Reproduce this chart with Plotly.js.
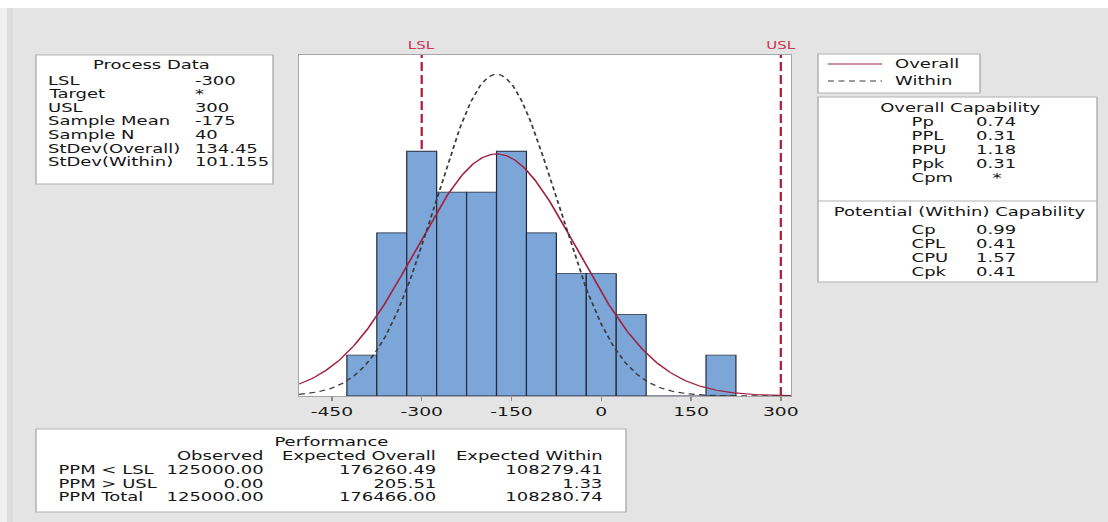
<!DOCTYPE html>
<html><head><meta charset="utf-8">
<script src="https://cdn.plot.ly/plotly-3.0.1.min.js"></script>
<style>
html,body{margin:0;padding:0;background:#e4e4e4;overflow:hidden;width:1108px;height:522px}
#stretch{width:739px;height:522px;transform:scaleX(1.49932);transform-origin:0 0}
#chart{width:739px;height:522px}
</style></head><body>
<div id="stretch"><div id="chart"></div></div>
<script>
// ---- data ----
const binCenters = [-400,-350,-300,-250,-200,-150,-100,-50,0,50,100,150,200];
const binCounts  = [1,4,6,5,5,6,4,3,3,2,0,0,1];
const binWidth = 50;
const specNames  = ['LSL','USL'];
const specValues = [-300, 300];
const sampleMean = -175;
const sampleN = 40;
const stdevOverall = 134.45;
const stdevWithin = 101.155;
const xTickVals   = [-450,-300,-150,0,150,300];
const xTickLabels = ['-450','-300','-150','0','150','300'];

const processLabels = ['LSL','Target','USL','Sample Mean','Sample N','StDev(Overall)','StDev(Within)'];
const processValues = ['-300','*','300','-175','40','134.45','101.155'];

const legendNames = ['Overall','Within'];

const overallCapLabels = ['Pp','PPL','PPU','Ppk','Cpm'];
const overallCapValues = ['0.74','0.31','1.18','0.31','*'];
const withinCapLabels  = ['Cp','CPL','CPU','Cpk'];
const withinCapValues  = ['0.99','0.41','1.57','0.41'];

const perfRowLabels  = ['PPM < LSL','PPM > USL','PPM Total'];
const perfColumns    = ['Observed','Expected Overall','Expected Within'];
const perfObserved   = ['125000.00','0.00','125000.00'];
const perfExpOverall = ['176260.49','205.51','176466.00'];
const perfExpWithin  = ['108279.41','1.33','108280.74'];

// ---- helpers (reference-pixel positions -> paper) ----
const W = 1108, H = 522;
const F = 'DejaVu Sans, sans-serif';
const TXT = '#161616';
const px = v => v / W;
const py = v => 1 - v / H;
const esc = s => s.replace(/</g,'&lt;').replace(/>/g,'&gt;');
const annotations = [];
function ann(text, xr, yr, xanchor, size, color) {
  annotations.push({text: esc(text), x: px(xr), y: py(yr), xref:'paper', yref:'paper',
    xanchor: xanchor, yanchor:'middle', align: xanchor === 'center' ? 'center' : xanchor,
    showarrow:false, borderpad:0, font:{family:F, size:size||12, color:color||TXT}});
}
const shapes = [];
function box(x0, y0, x1, y1) {
  shapes.push({type:'rect', xref:'paper', yref:'paper', x0:px(x0), x1:px(x1), y0:py(y1), y1:py(y0),
    fillcolor:'#ffffff', line:{color:'#b2b2b2', width:1}});
}
function hline(x0, x1, y, color, dash, width) {
  shapes.push({type:'line', xref:'paper', yref:'paper', x0:px(x0), x1:px(x1), y0:py(y), y1:py(y),
    line:{color:color, width:width||1, dash:dash||'solid'}});
}

// background strips
shapes.push({type:'rect', xref:'paper', yref:'paper', x0:0, x1:1, y0:py(8), y1:1, fillcolor:'#ffffff', line:{width:0}});
shapes.push({type:'rect', xref:'paper', yref:'paper', x0:0, x1:px(7), y0:0, y1:py(8), fillcolor:'#f0f0f0', line:{width:0}});
shapes.push({type:'rect', xref:'paper', yref:'paper', x0:px(7), x1:px(13), y0:0, y1:py(8), fillcolor:'#dcdcdc', line:{width:0}});

// Process Data box
box(36, 55, 273, 184);
ann('Process Data', 152, 65, 'center');
processLabels.forEach((l, i) => {
  const y = 81 + i * 13.5;
  ann(l, 47, y, 'left');
  ann(processValues[i], 194, y, 'left');
});

// Legend box
box(818, 54, 980, 93);
const OVERALL_COLOR = '#a0233f', WITHIN_COLOR = '#3c3c3c';
hline(828, 882, 64, OVERALL_COLOR, 'solid', 1.2);
hline(828, 882, 81, WITHIN_COLOR, '4px,3px', 1.2);
ann(legendNames[0], 893, 64, 'left');
ann(legendNames[1], 893, 81, 'left');

// Capability box
box(818, 97, 1097, 282);
ann('Overall Capability', 960, 108, 'center');
overallCapLabels.forEach((l, i) => {
  const y = 122 + i * 14.1;
  ann(l, 910, y, 'left');
  ann(overallCapValues[i], 997, y, 'center');
});
hline(818, 1097, 201, '#b2b2b2', 'solid', 1);
ann('Potential (Within) Capability', 960, 212, 'center');
withinCapLabels.forEach((l, i) => {
  const y = 230 + i * 14.1;
  ann(l, 910, y, 'left');
  ann(withinCapValues[i], 997, y, 'center');
});

// Performance box
box(36, 429, 626, 512);
ann('Performance', 331, 442, 'center');
const perfColRight = [266, 438, 604];
perfColumns.forEach((c, j) => ann(c, perfColRight[j], 456, 'right'));
const perfCols = [perfObserved, perfExpOverall, perfExpWithin];
perfRowLabels.forEach((l, i) => {
  const y = 470 + i * 13.5;
  ann(l, 57, y, 'left');
  perfCols.forEach((col, j) => ann(col[i], perfColRight[j], y, 'right'));
});

// spec limit lines + labels
const yTop = 8.36;
specValues.forEach((v, i) => {
  shapes.push({type:'line', xref:'x', yref:'y', x0:v, x1:v, y0:0, y1:yTop, layer:'below',
    line:{color:'#b01e3c', width:1.5, dash:'9px,4px'}});
  annotations.push({text: specNames[i], x: v, xref:'x', y: py(45), yref:'paper', xanchor:'center',
    yanchor:'middle', showarrow:false, font:{family:F, size:10, color:'#cc3552'}});
});

// fitted normal curves (from the Process Data statistics)
const curveX = [];
for (let x = -505; x <= 317; x += 2) curveX.push(x);
const scale = sampleN * binWidth;
const normal = (x, m, s) => scale * Math.exp(-0.5 * Math.pow((x - m) / s, 2)) / (s * Math.sqrt(2 * Math.PI));

const traces = [
  {type:'bar', x: binCenters, y: binCounts, width: binWidth,
   marker:{color:'#7ca5d8', line:{color:'#202a3a', width:0.8}}, hoverinfo:'skip'},
  {type:'scatter', mode:'lines', x: curveX, y: curveX.map(x => normal(x, sampleMean, stdevOverall)),
   name: legendNames[0], line:{color: OVERALL_COLOR, width:1.2}},
  {type:'scatter', mode:'lines', x: curveX, y: curveX.map(x => normal(x, sampleMean, stdevWithin)),
   name: legendNames[1], line:{color: WITHIN_COLOR, width:1.2, dash:'4px,3px'}}
];

const layout = {
  width: 739, height: 522,
  margin:{l:0, r:0, t:0, b:0, pad:0},
  paper_bgcolor:'#e4e4e4', plot_bgcolor:'#ffffff',
  showlegend:false, bargap:0,
  font:{family:F, size:12, color:TXT},
  xaxis:{domain:[px(299), px(791)], range:[-505, 317], tickmode:'array', tickvals: xTickVals, ticktext: xTickLabels,
    ticks:'outside', ticklen:4, tickcolor:'#8a8a8a', showline:true, mirror:true, linecolor:'#a6a6a6',
    linewidth:1, showgrid:false, zeroline:false, tickfont:{family:F, size:12.5, color:TXT}},
  yaxis:{domain:[py(396), py(55)], range:[0, yTop], showticklabels:false, ticks:'',
    showline:true, mirror:true, linecolor:'#a6a6a6', linewidth:1, showgrid:false, zeroline:false},
  shapes: shapes,
  annotations: annotations
};

Plotly.newPlot('chart', traces, layout, {staticPlot:true, displayModeBar:false});
</script>
</body></html>
